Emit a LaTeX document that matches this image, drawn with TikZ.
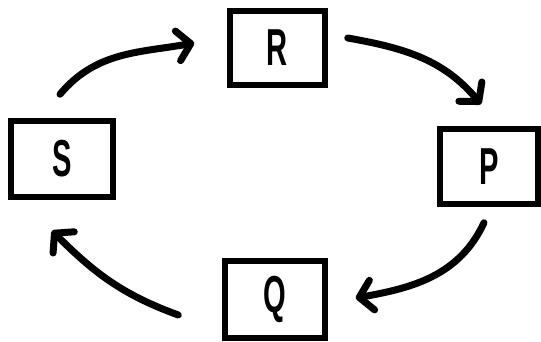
\documentclass[tikz,border=0pt]{standalone}
\usepackage{fontspec}
\setmainfont{Liberation Sans}
\usepackage{graphicx}
\usetikzlibrary{arrows.meta}
\newcommand{\slim}[1]{\scalebox{0.56}[1]{\bfseries #1}}

\begin{document}
\begin{tikzpicture}[
   x=1pt,y=1pt,
   stage/.style={draw,line width=6.5pt,font=\fontsize{52}{52}\selectfont},
   flow/.style={-{Straight Barb[length=13pt,width=30pt,round]},line width=7pt,line cap=round},
]
\useasboundingbox (0,0) rectangle (541,342);
\node[stage,minimum width=95pt,minimum height=74pt] (R) at (277.5,294) {\slim{R}};
\node[stage,minimum width=102pt,minimum height=76pt] (S) at (62,183) {\slim{S}};
\node[stage,minimum width=98pt,minimum height=75pt] (P) at (489,175.5) {\slim{P}};
\node[stage,minimum width=100pt,minimum height=77pt] (Q) at (275,42.5) {\slim{Q}};

\draw[flow] ([shift={(-2,23.5)}]S.north) to[out=50,in=190] ([shift={(-32.5,5)}]R.west);
\draw[flow] ([shift={(19.5,10)}]R.east) to[out=-10,in=130] ([shift={(-8,21.5)}]P.north);
\draw[flow] ([shift={(-5,-15.5)}]P.south) to[out=245,in=10] ([shift={(27.5,1.5)}]Q.east);
\draw[flow] ([shift={(-43.5,-15.5)}]Q.west) to[out=160,in=-45] ([shift={(-10,-30.5)}]S.south);
\end{tikzpicture}
\end{document}
